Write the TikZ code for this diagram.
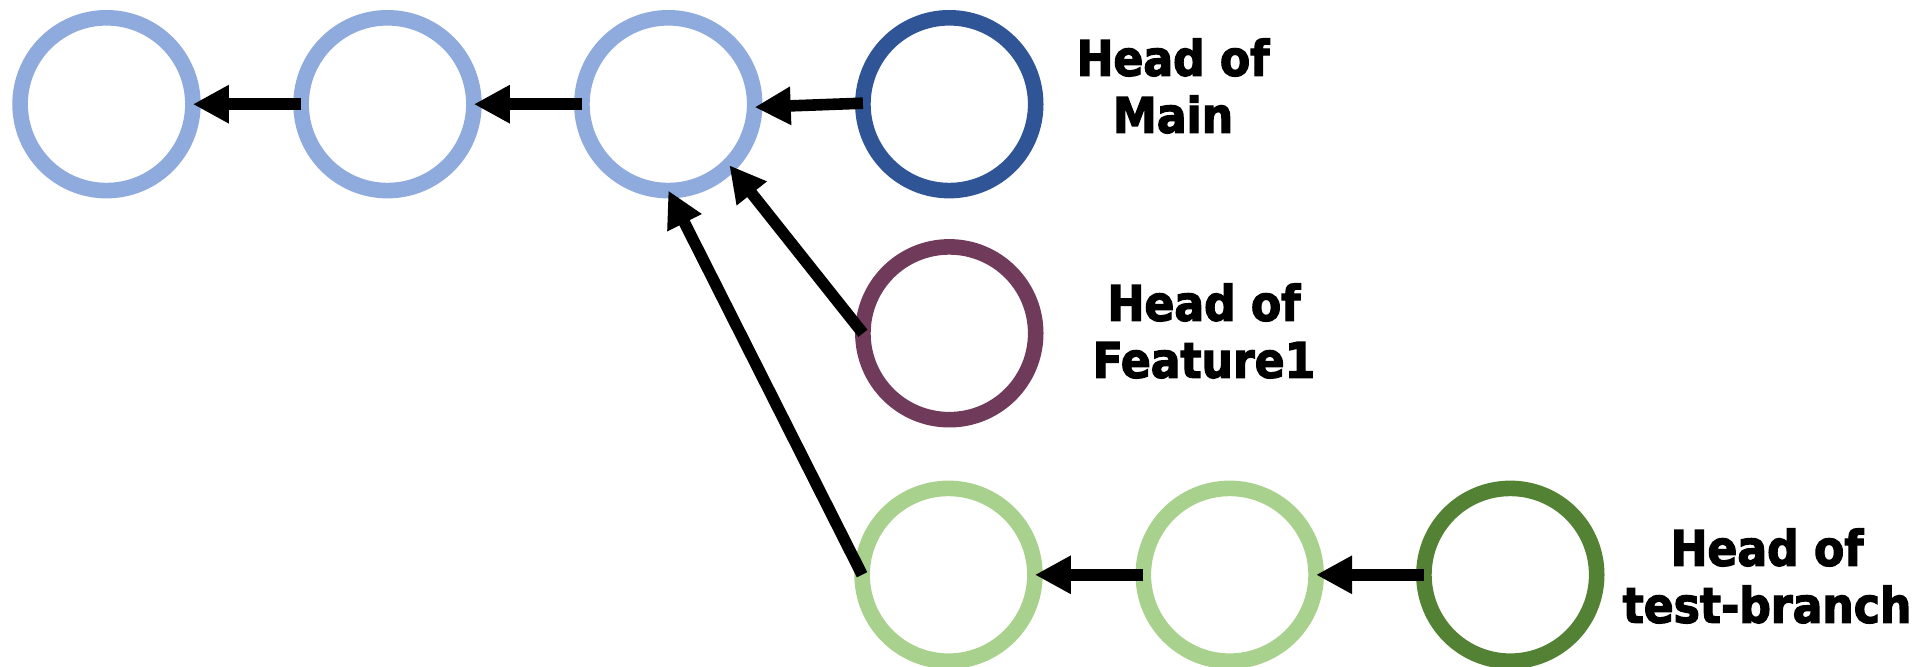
\documentclass[tikz,border=0pt]{standalone}
\usepackage{fontspec}
\newfontfamily\labfont[FakeBold=2.5]{DejaVu Sans Condensed Bold}
\usetikzlibrary{arrows.meta}
\definecolor{lblue}{HTML}{8FAADC}
\definecolor{dblue}{HTML}{2F5597}
\definecolor{lgreen}{HTML}{A9D18E}
\definecolor{dgreen}{HTML}{548235}
\definecolor{plum}{HTML}{703A5A}
\tikzset{
  commit/.style={circle,draw=#1,line width=7.8pt,minimum size=86.4pt,inner sep=0pt,outer sep=0pt},
  link/.style={line width=5.8pt,-{Triangle[length=18pt,width=18pt]}},
  lab/.style={font=\labfont\fontsize{24.5pt}{28.5pt}\selectfont,align=center,inner sep=0pt}
}
\begin{document}
\begin{tikzpicture}[x=0.5pt,y=-0.5pt]
\useasboundingbox (0,0) rectangle (1912,667);
\node[commit=lblue] (c1) at (106.5,104.2) {};
\node[commit=lblue] (c2) at (387.5,104.2) {};
\node[commit=lblue] (c3) at (668.3,104.2) {};
\node[commit=dblue] (main) at (949.3,104.2) {};
\node[commit=plum] (feat) at (949.3,333.3) {};
\node[commit=lgreen] (t1) at (948.5,574.8) {};
\node[commit=lgreen] (t2) at (1229.7,574.8) {};
\node[commit=dgreen] (t3) at (1510.3,574.8) {};
\node[lab] (lmain) at (1173,86) {Head of\\Main};
\node[lab] (lfeat) at (1204,331) {Head of\\Feature1};
\node[lab] (ltest) at (1767,576) {Head of\\test-branch};
\draw[link] (c2.west) -- (c1.east);
\draw[link] (c3.west) -- (c2.east);
\draw[link] ([yshift=0.5pt]main.west) -- ([yshift=-1.5pt]c3.east);
\draw[link] (feat.west) -- (c3.-45);
\draw[link] (t1.west) -- (c3.south);
\draw[link] (t2.west) -- (t1.east);
\draw[link] (t3.west) -- (t2.east);
\end{tikzpicture}
\end{document}
